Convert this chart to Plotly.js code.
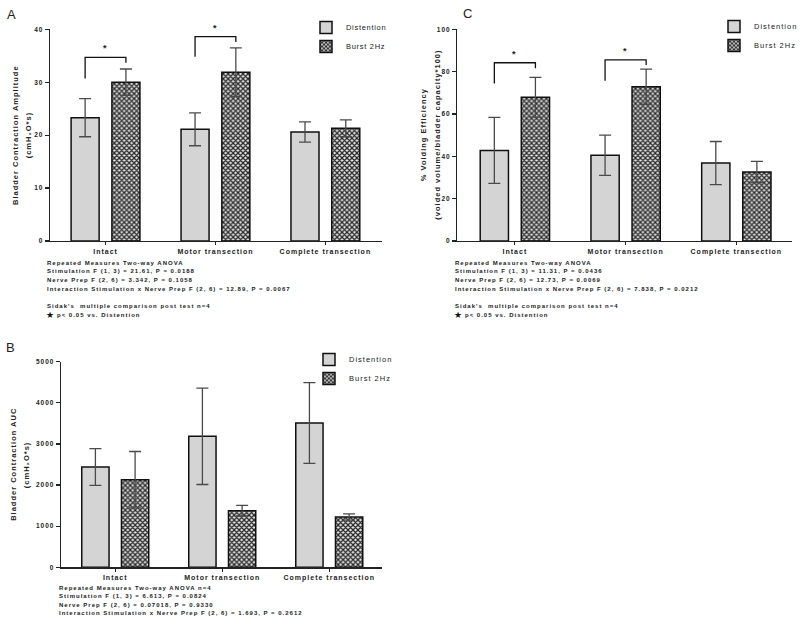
<!DOCTYPE html>
<html>
<head>
<meta charset="utf-8">
<script src="https://cdn.plot.ly/plotly-3.0.1.min.js"></script>
<style>
  html, body { margin: 0; padding: 0; background: #fff; }
  #chart { width: 800px; height: 624px; }
  text { letter-spacing: 1px; }
  text.legendtext { letter-spacing: 0.7px; }
</style>
</head>
<body>
<div id="chart"></div>
<script>
// ---------- data ----------
const categories = ['Intact', 'Motor transection', 'Complete transection'];
const seriesNames = ['Distention', 'Burst 2Hz'];

// Panel A: Bladder contraction amplitude (cmH2O*s)
const ampDist = [23.3, 21.1, 20.6];
const ampDistErr = [3.6, 3.1, 1.9];
const ampBurst = [30.0, 31.9, 21.3];
const ampBurstErr = [2.5, 4.6, 1.6];

// Panel C: % voiding efficiency
const veDist = [42.8, 40.5, 36.8];
const veDistErr = [15.6, 9.5, 10.2];
const veBurst = [67.9, 72.9, 32.6];
const veBurstErr = [9.4, 8.3, 5.0];

// Panel B: bladder contraction AUC (cmH2O*s)
const aucDist = [2439, 3186, 3509];
const aucDistErr = [445, 1172, 980];
const aucBurst = [2130, 1377, 1223];
const aucBurstErr = [686, 130, 75];

// significance brackets: category index, [left leg end, top, right leg end]
const sigCatsA = [0, 1];
const sigLevelsA = [[30.7, 34.7, 33.7], [34.8, 38.6, 37.6]];
const sigCatsC = [0, 1];
const sigLevelsC = [[74.4, 84.2, 81.6], [75.7, 85.6, 83.1]];

const statsA = [
  'Repeated Measures Two-way ANOVA',
  'Stimulation F (1, 3) = 21.61, P = 0.0188',
  'Nerve Prep F (2, 6) = 3.342, P = 0.1058',
  'Interaction Stimulation x Nerve Prep F (2, 6) = 12.89, P = 0.0067',
  '',
  "Sidak's  multiple comparison post test n=4",
  '★p< 0.05 vs. Distention'
];
const statsC = [
  'Repeated Measures Two-way ANOVA',
  'Stimulation F (1, 3) = 11.31, P = 0.0436',
  'Nerve Prep F (2, 6) = 12.73, P = 0.0069',
  'Interaction Stimulation x Nerve Prep F (2, 6) = 7.838, P = 0.0212',
  '',
  "Sidak's  multiple comparison post test n=4",
  '★p< 0.05 vs. Distention'
];
const statsB = [
  'Repeated Measures Two-way ANOVA n=4',
  'Stimulation F (1, 3) = 6.613, P = 0.0824',
  'Nerve Prep F (2, 6) = 0.07018, P = 0.9330',
  'Interaction Stimulation x Nerve Prep F (2, 6) = 1.693, P = 0.2612'
];

// ---------- styling / layout ----------
const W = 800, H = 624;
const fx = p => p / W;
const fy = p => 1 - p / H;
const FONT = 'Liberation Sans, Arial, DejaVu Sans, sans-serif';
const BAR_W = 0.255;
const OFF_D = -0.313, OFF_B = 0.058;
const cD = OFF_D + BAR_W / 2, cB = OFF_B + BAR_W / 2;
const catIdx = categories.map((_, i) => i);

function barPair(xa, ya, dv, de, bv, be, legend) {
  const err = arr => ({type: 'data', array: arr, visible: true, color: '#4a4a4a', thickness: 1.3, width: 6});
  return [
    {type: 'bar', x: catIdx, y: dv, error_y: err(de), name: seriesNames[0], xaxis: xa, yaxis: ya,
     width: BAR_W, offset: OFF_D, legend: legend,
     marker: {color: '#d4d4d4', line: {color: '#111', width: 1.5}}},
    {type: 'bar', x: catIdx, y: bv, error_y: err(be), name: seriesNames[1], xaxis: xa, yaxis: ya,
     width: BAR_W, offset: OFF_B, legend: legend,
     marker: {color: '#e6e6e6', line: {color: '#111', width: 1.5},
              pattern: {shape: 'x', size: 3.5, solidity: 0.6, fgcolor: '#2a2a2a', bgcolor: '#e6e6e6', fillmode: 'replace'}}}
  ];
}

function brackets(xa, ya, cats, levels) {
  return cats.map((c, i) => ({
    type: 'scatter', mode: 'lines', xaxis: xa, yaxis: ya, showlegend: false, hoverinfo: 'skip',
    x: [c + cD, c + cD, c + cB, c + cB],
    y: [levels[i][0], levels[i][1], levels[i][1], levels[i][2]],
    line: {color: '#111', width: 1.3}
  }));
}

const data = [
  ...barPair('x', 'y', ampDist, ampDistErr, ampBurst, ampBurstErr, 'legend'),
  ...barPair('x2', 'y2', veDist, veDistErr, veBurst, veBurstErr, 'legend2'),
  ...barPair('x3', 'y3', aucDist, aucDistErr, aucBurst, aucBurstErr, 'legend3'),
  ...brackets('x', 'y', sigCatsA, sigLevelsA),
  ...brackets('x2', 'y2', sigCatsC, sigLevelsC)
];

function xAxis(domPx, range, anchor) {
  return {domain: [fx(domPx[0]), fx(domPx[1])], range: range, anchor: anchor,
    tickmode: 'array', tickvals: catIdx, ticktext: categories,
    ticks: 'outside', ticklen: 3, tickwidth: 1.2, tickcolor: '#222',
    showline: true, linecolor: '#222', linewidth: 1.3, showgrid: false, zeroline: false,
    tickfont: {family: FONT, size: 7, color: '#222', weight: 'bold'}, fixedrange: true};
}
function yAxis(domPx, range, dtick, anchor) {
  return {domain: [fy(domPx[1]), fy(domPx[0])], range: range, dtick: dtick, anchor: anchor,
    ticks: 'outside', ticklen: 4, tickwidth: 1.2, tickcolor: '#222',
    showline: true, linecolor: '#222', linewidth: 1.3, showgrid: false, zeroline: false,
    tickfont: {family: FONT, size: 6.5, color: '#222', weight: 'bold'}, fixedrange: true};
}

const annotations = [];
function txt(xp, yp, text, size, opts) {
  annotations.push(Object.assign({xref: 'paper', yref: 'paper', x: fx(xp), y: fy(yp), text: text,
    showarrow: false, xanchor: 'left', yanchor: 'middle', align: 'left',
    font: {family: FONT, size: size, color: '#222', weight: 'bold'}}, opts || {}));
}
function statBlock(lines, xp, y0, step) {
  lines.forEach((l, i) => {
    if (!l) return;
    if (l.charAt(0) === '★') {
      txt(xp - 1, y0 + i * step, '★', 9, {font: {family: 'DejaVu Sans, sans-serif', size: 9, color: '#111'}});
      txt(xp + 10, y0 + i * step, l.slice(1), 6);
    } else {
      txt(xp, y0 + i * step, l, 6);
    }
  });
}
// panel letters
txt(11.5, 14, 'A', 13, {xanchor: 'center', font: {family: FONT, size: 13, color: '#222'}});
txt(467.5, 13, 'C', 13, {xanchor: 'center', font: {family: FONT, size: 13, color: '#222'}});
txt(11, 347, 'B', 13, {xanchor: 'center', font: {family: FONT, size: 13, color: '#222'}});
// axis titles
function ytitle(xp, yp, text) {
  txt(xp, yp, text, 7.5, {xanchor: 'center', align: 'center', textangle: -90});
}
ytitle(15, 135, 'Bladder Contraction Amplitude');
ytitle(28.3, 135, '(cmH₂O*s)');
ytitle(423.3, 135, '% Voiding Efficiency');
ytitle(436.7, 135, '(voided volume/bladder capacity*100)');
ytitle(13.3, 464.5, 'Bladder Contraction AUC');
ytitle(26.7, 464.5, '(cmH₂O*s)');
// stats blocks
statBlock(statsA, 45, 262.7, 8.65);
statBlock(statsC, 453.3, 262.7, 8.65);
statBlock(statsB, 56.7, 587.7, 8.45);
// significance stars
sigCatsA.forEach((c, i) => annotations.push({xref: 'x', yref: 'y', x: c, y: sigLevelsA[i][1], text: '*',
  showarrow: false, yanchor: 'bottom', yshift: 2, font: {family: FONT, size: 9, color: '#222', weight: 'bold'}}));
sigCatsC.forEach((c, i) => annotations.push({xref: 'x2', yref: 'y2', x: c, y: sigLevelsC[i][1], text: '*',
  showarrow: false, yanchor: 'bottom', yshift: 2, font: {family: FONT, size: 9, color: '#222', weight: 'bold'}}));

function legendAt(xp, yp) {
  return {x: fx(xp), y: fy(yp), xanchor: 'left', yanchor: 'top', bgcolor: 'rgba(0,0,0,0)', borderwidth: 0,
    font: {family: FONT, size: 7.5, color: '#222'}, itemclick: false, itemdoubleclick: false};
}

const layout = {
  width: W, height: H, margin: {l: 0, r: 0, t: 0, b: 0},
  paper_bgcolor: '#fff', plot_bgcolor: 'rgba(0,0,0,0)',
  barmode: 'overlay', showlegend: true,
  xaxis: xAxis([50, 382], [-0.505, 2.515], 'y'),
  yaxis: yAxis([29.3, 241], [0, 40], 10, 'x'),
  xaxis2: xAxis([457.3, 791.7], [-0.52, 2.50], 'y2'),
  yaxis2: yAxis([29.3, 241], [0, 100], 20, 'x2'),
  xaxis3: xAxis([61, 381.7], [-0.507, 2.49], 'y3'),
  yaxis3: yAxis([361.7, 567.3], [0, 5000], 1000, 'x3'),
  legend: legendAt(306, 13),
  legend2: legendAt(714, 12),
  legend3: legendAt(309, 345),
  annotations: annotations
};

Plotly.newPlot('chart', data, layout, {staticPlot: true, displayModeBar: false});
</script>
</body>
</html>
